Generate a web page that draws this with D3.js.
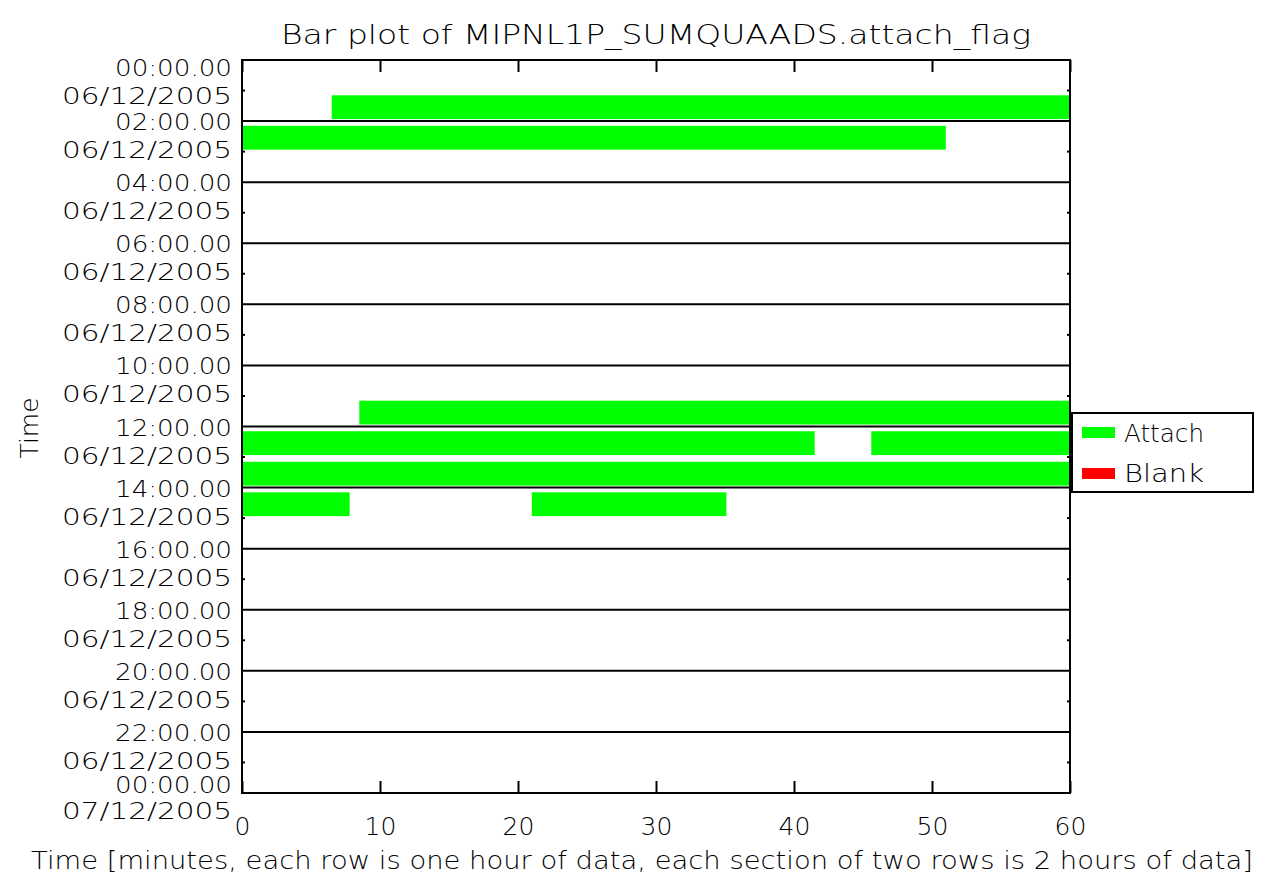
<!DOCTYPE html>
<html>
<head>
<meta charset="utf-8">
<script src="https://cdn.jsdelivr.net/npm/d3@7"></script>
<style>
  body { margin: 0; background: #fff; }
  svg { font-family: "DejaVu Sans", sans-serif; font-weight: 200; }
</style>
</head>
<body>
<div id="chart"></div>
<script>
// Bar plot of attach flag, one row per hour, x = minutes in that hour

// rows (hour index from 00:00 06/12/2005), segment start / end in minutes
const rowIndex = [1, 2, 11, 12, 12, 13, 14, 14];
const startMin = [6.5, 0, 8.5, 0, 45.6, 0, 0, 21.0];
const endMin   = [60, 51, 60, 41.5, 60, 60, 7.8, 35.1];
const flagCat  = ["Attach", "Attach", "Attach", "Attach", "Attach", "Attach", "Attach", "Attach"];

const timeLabels = ["00:00.00", "02:00.00", "04:00.00", "06:00.00", "08:00.00", "10:00.00",
    "12:00.00", "14:00.00", "16:00.00", "18:00.00", "20:00.00", "22:00.00", "00:00.00"];
const dateLabels = ["06/12/2005", "06/12/2005", "06/12/2005", "06/12/2005", "06/12/2005", "06/12/2005",
    "06/12/2005", "06/12/2005", "06/12/2005", "06/12/2005", "06/12/2005", "06/12/2005", "07/12/2005"];
const xTicks = [0, 10, 20, 30, 40, 50, 60];
const legendNames = ["Attach", "Blank"];
const legendColors = ["#00ff00", "#ff0000"];

const width = 1284, height = 877,
    margin = ({top: 60, right: 214, bottom: 84, left: 242});
const fs = 25;

const svg = d3.select("#chart")
    .append("svg")
    .attr("width", width)
    .attr("height", height);

const x = d3.scaleLinear()
    .domain([0, 60])
    .range([margin.left, width - margin.right]);

const y = d3.scaleLinear()
    .domain([0, 24])
    .range([margin.top, height - margin.bottom]);

const color = d3.scaleOrdinal().domain(legendNames).range(legendColors);

const bars = rowIndex.map((r, i) => ({row: r, s: startMin[i], e: endMin[i], cat: flagCat[i]}));

// bars
svg.append("g")
    .selectAll("rect")
    .data(bars)
    .join("rect")
    .attr("x", d => x(d.s))
    .attr("width", d => x(d.e) - x(d.s))
    .attr("y", d => y(d.row + 0.155))
    .attr("height", d => y(d.row + 0.935) - y(d.row + 0.155))
    .attr("fill", d => color(d.cat));

// section lines every two hours
const sections = d3.range(2, 24, 2);
svg.append("g")
    .selectAll("line")
    .data(sections)
    .join("line")
    .attr("x1", x(0)).attr("x2", x(60))
    .attr("y1", d => y(d)).attr("y2", d => y(d))
    .attr("stroke", "#000")
    .attr("stroke-width", 2);

// small ticks between the two rows of a section
const halfRows = d3.range(1, 24, 2);
const minor = svg.append("g").attr("stroke", "#000").attr("stroke-width", 2);
minor.selectAll(".ml").data(halfRows).join("line")
    .attr("x1", x(0)).attr("x2", x(0) + 3)
    .attr("y1", d => y(d)).attr("y2", d => y(d));
minor.selectAll(".mr").data(halfRows).join("line")
    .attr("x1", x(60)).attr("x2", x(60) - 3)
    .attr("y1", d => y(d)).attr("y2", d => y(d));

// x axes, ticks inside the frame
const xAxis = g => g
    .attr("transform", `translate(0,${y(24)})`)
    .call(d3.axisBottom(x).tickValues(xTicks).tickSize(-12).tickPadding(24).tickFormat(d3.format("d")))
    .call(g => g.select(".domain").remove())
    .call(g => g.selectAll(".tick line").attr("stroke-width", 2))
    .call(g => g.selectAll(".tick text")
        .attr("font-size", fs)
        .attr("fill", "#000")
        .attr("font-family", "DejaVu Sans")
        .attr("font-weight", 200));

const xAxisTop = g => g
    .attr("transform", `translate(0,${y(0)})`)
    .call(d3.axisTop(x).tickValues(xTicks).tickSize(-12).tickFormat(""))
    .call(g => g.select(".domain").remove())
    .call(g => g.selectAll(".tick line").attr("stroke-width", 2));

svg.append("g").call(xAxis);
svg.append("g").call(xAxisTop);

// frame
svg.append("rect")
    .attr("x", x(0)).attr("y", y(0))
    .attr("width", x(60) - x(0))
    .attr("height", y(24) - y(0))
    .attr("fill", "none")
    .attr("stroke", "#000")
    .attr("stroke-width", 2);

// y tick labels: time on the tick, date below it
const yLab = svg.append("g")
    .attr("font-size", 23)
    .attr("text-anchor", "end");

timeLabels.forEach((t, i) => {
    const last = i === timeLabels.length - 1;
    const ty = y(i * 2);
    const dyT = i === 0 ? 8 : (last ? -8 : 1);
    const dyD = dyT + (last ? 26 : 28);
    yLab.append("text")
        .attr("x", margin.left - 10)
        .attr("y", ty + dyT + 8)
        .attr("textLength", 117)
        .attr("lengthAdjust", "spacingAndGlyphs")
        .text(t);
    yLab.append("text")
        .attr("x", margin.left - 10)
        .attr("y", ty + dyD + 8)
        .attr("textLength", 170)
        .attr("lengthAdjust", "spacingAndGlyphs")
        .text(dateLabels[i]);
});

// title
svg.append("text")
    .attr("x", (x(0) + x(60)) / 2)
    .attr("y", 44)
    .attr("text-anchor", "middle")
    .attr("font-size", 27)
    .attr("textLength", 750)
    .attr("lengthAdjust", "spacingAndGlyphs")
    .text("Bar plot of MIPNL1P_SUMQUAADS.attach_flag");

// axis titles
svg.append("text")
    .attr("x", 642)
    .attr("y", 869)
    .attr("text-anchor", "middle")
    .attr("font-size", fs)
    .attr("textLength", 1222)
    .attr("lengthAdjust", "spacingAndGlyphs")
    .text("Time [minutes, each row is one hour of data, each section of two rows is 2 hours of data]");

svg.append("text")
    .attr("transform", "translate(38,428) rotate(-90)")
    .attr("text-anchor", "middle")
    .attr("font-size", fs)
    .text("Time");

// legend
const lg = svg.append("g");
lg.append("rect")
    .attr("x", 1072).attr("y", 413)
    .attr("width", 181).attr("height", 79)
    .attr("fill", "#fff")
    .attr("stroke", "#000")
    .attr("stroke-width", 2);

legendNames.forEach((n, i) => {
    lg.append("rect")
        .attr("x", 1082).attr("y", 427 + i * 41)
        .attr("width", 33).attr("height", 11)
        .attr("fill", legendColors[i]);
    lg.append("text")
        .attr("x", 1124).attr("y", 442 + i * 40)
        .attr("font-size", fs)
        .attr("textLength", 80)
        .attr("lengthAdjust", "spacingAndGlyphs")
        .text(n);
});
</script>
</body>
</html>
